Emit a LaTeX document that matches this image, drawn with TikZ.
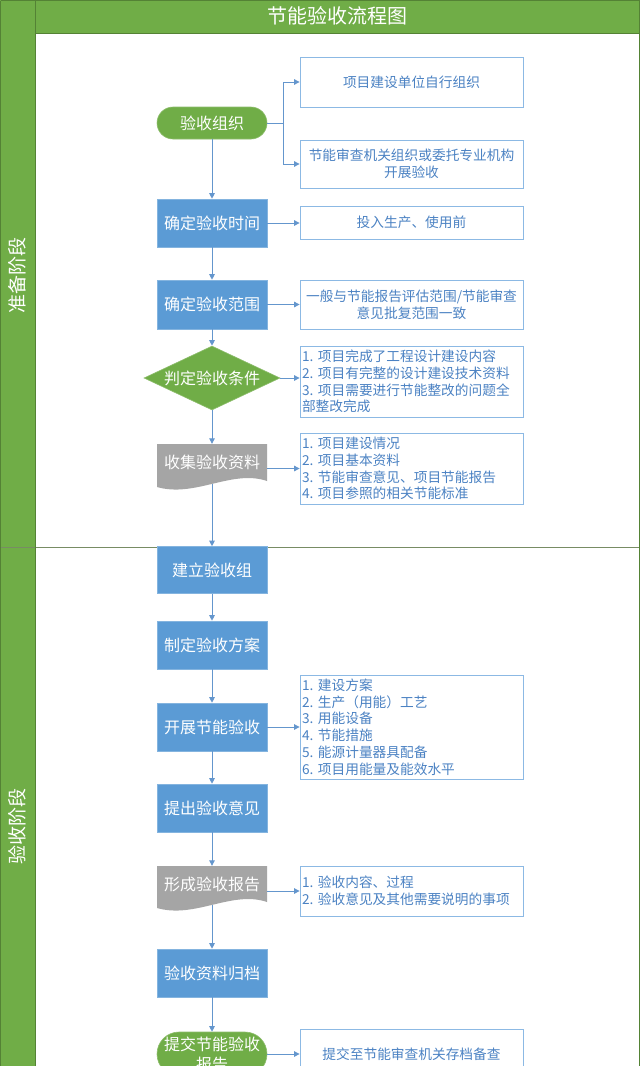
\documentclass[tikz,border=0pt]{standalone}
\usepackage{fontspec}
\setmainfont{Noto Sans CJK SC}
\usetikzlibrary{shapes.geometric,arrows.meta,calc}
\definecolor{bandgreen}{RGB}{112,173,71}
\definecolor{darkgreen}{RGB}{84,130,53}
\definecolor{sepline}{RGB}{120,140,100}
\definecolor{nodeblue}{RGB}{91,155,213}
\definecolor{linkblue}{RGB}{100,150,205}
\definecolor{boxline}{RGB}{140,185,228}
\definecolor{boxtext}{RGB}{75,130,195}
\definecolor{docgray}{RGB}{165,165,165}
\newcommand{\numdot}[1]{#1.\hspace{4.5pt}}
\begin{document}
\begin{tikzpicture}[x=1pt,y=-1pt,
  mainbox/.style={rectangle, fill=nodeblue, draw=nodeblue!75!white, line width=0.6pt,
    minimum width=110pt, minimum height=48pt, inner sep=0pt, text=white,
    font=\fontsize{16}{20}\selectfont, align=center},
  pill/.style={mainbox, fill=bandgreen, draw=bandgreen!80!white, rounded corners=16pt, minimum height=32pt},
  doctext/.style={rectangle, minimum width=110pt, inner sep=0pt, text=white,
    font=\fontsize{16}{20}\selectfont, align=center},
  cond/.style={diamond, aspect=2.125, fill=bandgreen, draw=bandgreen!80!white, line width=0.6pt,
    minimum width=136pt, minimum height=64pt, inner sep=0pt, text=white,
    font=\fontsize{16}{20}\selectfont},
  infobox/.style={rectangle, draw=boxline, line width=0.8pt, fill=white, text=boxtext,
    font=\fontsize{13.7}{16.8}\selectfont, text width=219pt, inner xsep=2pt, inner ysep=0pt, align=center},
  listbox/.style={infobox, align=left},
  arr/.style={draw=linkblue, line width=0.9pt, -{Triangle[length=5.5pt,width=5.5pt]}},
  phase/.style={rotate=90, text=white, font=\fontsize{19}{22}\selectfont},
  titletext/.style={text=white, font=\fontsize{20}{24}\selectfont}
]
\useasboundingbox (0,0) rectangle (640,1066);
% background
\fill[white] (0,0) rectangle (640,1066);
\fill[bandgreen] (0,0) rectangle (35,1066);
\fill[bandgreen] (35,0) rectangle (640,33);
\draw[sepline, line width=1pt] (0,547) -- (640,547);
\draw[darkgreen, line width=0.8pt] (35,0) -- (35,1066);
\draw[darkgreen, line width=0.8pt] (35,33) -- (640,33);
\draw[darkgreen, line width=1.2pt] (0.6,0.6) -- (639.4,0.6) -- (639.4,1066);
\draw[darkgreen, line width=1.2pt] (0.6,0.6) -- (0.6,1066);

\node[titletext] (title) at (337,16) {节能验收流程图};
\node[phase] (ph1) at (17,275) {准备阶段};
\node[phase] (ph2) at (17,826) {验收阶段};

% document shapes (gray)
\fill[docgray] (157,444) -- (267,444) -- (267,481) .. controls (232,469) and (195,498) .. (157,487) -- cycle;
\fill[docgray] (157,866) -- (267,866) -- (267,902) .. controls (232,890) and (195,919) .. (157,908) -- cycle;

% main column
\node[pill] (org) at (212,123) {验收组织};
\node[mainbox] (time) at (212,223) {确定验收时间};
\node[mainbox, minimum height=49pt] (scope) at (212,304.5) {确定验收范围};
\node[cond] (judge) at (212,378) {判定验收条件};
\node[doctext, minimum height=36pt] (collect) at (212,462) {收集验收资料};
\coordinate (collectbot) at (212,484);
\node[mainbox, minimum height=47pt] (build) at (212,570) {建立验收组};
\node[mainbox] (plan) at (212,645) {制定验收方案};
\node[mainbox] (conduct) at (212,727) {开展节能验收};
\node[mainbox] (opinion) at (212,808) {提出验收意见};
\node[doctext, minimum height=36pt] (report) at (212,884) {形成验收报告};
\coordinate (reportbot) at (212,905);
\node[mainbox] (archive) at (212,973) {验收资料归档};
\node[pill, rounded corners=22pt, minimum height=44pt] (submit) at (212,1054) {提交节能验收\\报告};

% right boxes
\node[infobox, minimum height=50pt] (b1) at (411.5,82) {项目建设单位自行组织};
\node[infobox, minimum height=48pt] (b2) at (411.5,164) {节能审查机关组织或委托专业机构\\开展验收};
\node[infobox, minimum height=33pt] (b3) at (411.5,222.5) {投入生产、使用前};
\node[infobox, minimum height=49pt] (b4) at (411.5,304.5) {一般与节能报告评估范围/节能审查\\意见批复范围一致};
\node[listbox, minimum height=71pt] (b5) at (411.5,381.5) {\numdot{1}项目完成了工程设计建设内容\\\numdot{2}项目有完整的设计建设技术资料\\\numdot{3}项目需要进行节能整改的问题全\\部整改完成};
\node[listbox, minimum height=71pt] (b6) at (411.5,468.5) {\numdot{1}项目建设情况\\\numdot{2}项目基本资料\\\numdot{3}节能审查意见、项目节能报告\\\numdot{4}项目参照的相关节能标准};
\node[listbox, minimum height=104pt] (b7) at (411.5,727) {\numdot{1}建设方案\\\numdot{2}生产（用能）工艺\\\numdot{3}用能设备\\\numdot{4}节能措施\\\numdot{5}能源计量器具配备\\\numdot{6}项目用能量及能效水平};
\node[listbox, minimum height=50pt] (b8) at (411.5,891) {\numdot{1}验收内容、过程\\\numdot{2}验收意见及其他需要说明的事项};
\node[infobox, minimum height=50pt] (b9) at (411.5,1054) {提交至节能审查机关存档备查};

% main flow connectors
\draw[arr] (org) -- (time);
\draw[arr] (time) -- (scope);
\draw[arr] (scope) -- (judge);
\draw[arr] (judge) -- (collect.north);
\draw[arr] (collectbot) -- (build.north);
\draw[arr] (build) -- (plan);
\draw[arr] (plan) -- (conduct);
\draw[arr] (conduct) -- (opinion);
\draw[arr] (opinion) -- (report.north);
\draw[arr] (reportbot) -- (archive.north);
\draw[arr] (archive) -- (submit);

% side connectors
\coordinate (split) at (283,123);
\draw[arr] (org.east) -- (split) |- (b1.west);
\draw[arr] (split) |- (b2.west);
\draw[arr] (time.east) -- (time.east -| b3.west);
\draw[arr] (scope.east) -- (scope.east -| b4.west);
\draw[arr] (judge.east) -- (judge.east -| b5.west);
\draw[arr] (collect.east |- b6.west) -- (b6.west);
\draw[arr] (conduct.east) -- (conduct.east -| b7.west);
\draw[arr] (report.east |- b8.west) -- (b8.west);
\draw[arr] (submit.east) -- (submit.east -| b9.west);
\end{tikzpicture}
\end{document}
